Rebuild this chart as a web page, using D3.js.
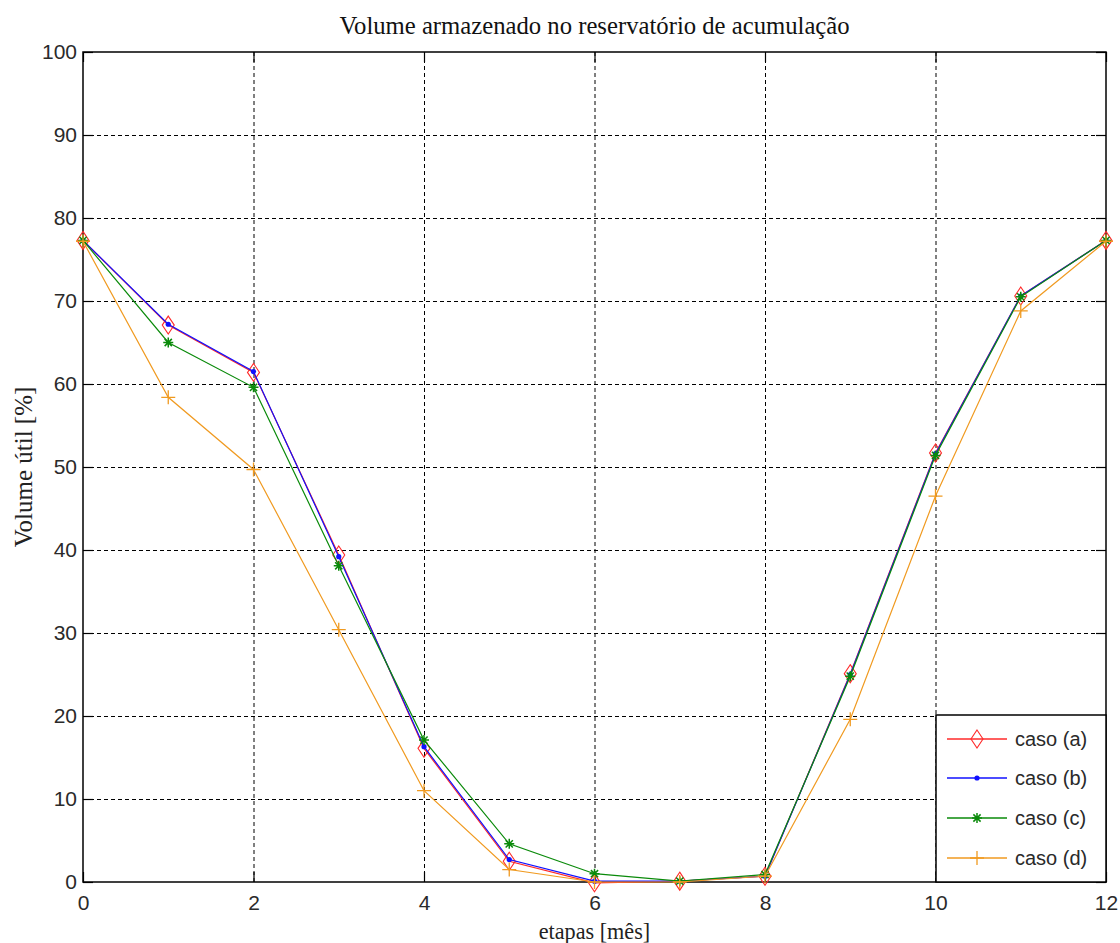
<!DOCTYPE html>
<html><head><meta charset="utf-8">
<script src="https://cdn.jsdelivr.net/npm/d3@7"></script>
<style>
html,body{margin:0;padding:0;background:#fff;}
svg{display:block;}
</style></head>
<body>
<svg id="chart" width="1120" height="943"></svg>
<script>
const etapas = [0,1,2,3,4,5,6,7,8,9,10,11,12];
const casoA = [77.3, 67.1, 61.4, 39.4, 16.1, 2.5, -0.1, 0.1, 0.7, 25.1, 51.7, 70.6, 77.3];
const casoB = [77.3, 67.2, 61.5, 39.2, 16.3, 2.7, 0.1, 0.1, 0.7, 25.0, 51.6, 70.6, 77.3];
const casoC = [77.3, 65.0, 59.6, 38.1, 17.1, 4.6, 1.0, 0.1, 0.9, 24.8, 51.4, 70.5, 77.3];
const casoD = [77.2, 58.4, 49.7, 30.4, 11.0, 1.5, 0.0, 0.0, 0.7, 19.6, 46.5, 68.8, 77.2];
const seriesNames = ["caso (a)", "caso (b)", "caso (c)", "caso (d)"];
const xTicks = [0,2,4,6,8,10,12];
const yTicks = [0,10,20,30,40,50,60,70,80,90,100];
const titleText = "Volume armazenado no reservatório de acumulação";
const xLabel = "etapas [mês]";
const yLabel = "Volume útil [%]";

const colors = ["#ff2a2a", "#1010ff", "#0a8a0a", "#f09a20"];
const markers = ["diamond", "dot", "star", "plus"];
const seriesData = [casoA, casoB, casoC, casoD];

const svg = d3.select("#chart");
const L = 83, R = 1106, T = 52, B = 882;
const x = d3.scaleLinear().domain([0,12]).range([L,R]);
const y = d3.scaleLinear().domain([0,100]).range([B,T]);

const sans = "'Liberation Sans', Arial, sans-serif";
const serif = "'Liberation Serif', 'Times New Roman', serif";

// grid
const grid = svg.append("g");
grid.selectAll("line.gx").data(xTicks.filter(d=>d>0&&d<12)).enter().append("line")
  .attr("x1",d=>x(d)+0.5).attr("x2",d=>x(d)+0.5).attr("y1",T).attr("y2",B)
  .attr("stroke","#000").attr("stroke-width",1).attr("stroke-dasharray","4,3");
grid.selectAll("line.gy").data(yTicks.filter(d=>d>0&&d<100)).enter().append("line")
  .attr("y1",d=>Math.round(y(d))+0.5).attr("y2",d=>Math.round(y(d))+0.5).attr("x1",L).attr("x2",R)
  .attr("stroke","#000").attr("stroke-width",1).attr("stroke-dasharray","4,3");

// axes
const tickLen = 10;
const xAxisB = d3.axisBottom(x).tickValues(xTicks).tickSize(-tickLen).tickPadding(12).tickFormat(d3.format("d"));
const xAxisT = d3.axisTop(x).tickValues(xTicks).tickSize(-tickLen).tickFormat("");
const yAxisL = d3.axisLeft(y).tickValues(yTicks).tickSize(-tickLen).tickPadding(6).tickFormat(d3.format("d"));
const yAxisR = d3.axisRight(y).tickValues(yTicks).tickSize(-tickLen).tickFormat("");

function styleAxis(g){
  g.select(".domain").remove();
  g.selectAll("line").attr("stroke","#000").attr("stroke-width",1.2);
  g.selectAll("text").attr("fill","#2a2a2a").style("font-family",sans).style("font-size","21px");
}
svg.append("g").attr("transform",`translate(0,${B})`).call(xAxisB).call(styleAxis)
  .selectAll("text").attr("dy","0.75em");
svg.append("g").attr("transform",`translate(0,${T})`).call(xAxisT).call(styleAxis);
svg.append("g").attr("transform",`translate(${L},0)`).call(yAxisL).call(styleAxis);
svg.append("g").attr("transform",`translate(${R},0)`).call(yAxisR).call(styleAxis);

// frame
svg.append("rect").attr("x",L).attr("y",T).attr("width",R-L).attr("height",B-T)
  .attr("fill","none").attr("stroke","#000").attr("stroke-width",1.5);

// markers
function drawMarker(g, type, cx, cy, color){
  if(type==="diamond"){
    g.append("path").attr("d",`M${cx},${cy-9}L${cx+6},${cy}L${cx},${cy+9}L${cx-6},${cy}Z`)
      .attr("fill","none").attr("stroke",color).attr("stroke-width",1.1);
  } else if(type==="dot"){
    g.append("circle").attr("cx",cx).attr("cy",cy).attr("r",2.6).attr("fill",color);
  } else if(type==="star"){
    const s=5, d=3.6;
    g.append("path").attr("d",`M${cx-s},${cy}L${cx+s},${cy}M${cx},${cy-s}L${cx},${cy+s}M${cx-d},${cy-d}L${cx+d},${cy+d}M${cx-d},${cy+d}L${cx+d},${cy-d}`)
      .attr("stroke",color).attr("stroke-width",1.5).attr("fill","none");
  } else if(type==="plus"){
    const s=7;
    g.append("path").attr("d",`M${cx-s},${cy}L${cx+s},${cy}M${cx},${cy-s}L${cx},${cy+s}`)
      .attr("stroke",color).attr("stroke-width",1.3).attr("fill","none");
  }
}

const line = d3.line().x((d,i)=>x(etapas[i])).y(d=>y(d));
seriesData.forEach((vals,k)=>{
  const g = svg.append("g");
  g.append("path").attr("d",line(vals)).attr("fill","none").attr("stroke",colors[k]).attr("stroke-width",1.2);
  vals.forEach((v,i)=>drawMarker(g, markers[k], x(etapas[i]), y(v), colors[k]));
});

// legend
const lg = svg.append("g");
const lx0 = 936, ly0 = 715;
lg.append("rect").attr("x",lx0).attr("y",ly0).attr("width",R-lx0).attr("height",B-ly0)
  .attr("fill","#fff").attr("stroke","#000").attr("stroke-width",1.5);
const rowY = [739, 778, 818, 858];
seriesNames.forEach((name,k)=>{
  lg.append("line").attr("x1",947).attr("x2",1007).attr("y1",rowY[k]).attr("y2",rowY[k])
    .attr("stroke",colors[k]).attr("stroke-width",1.5);
  drawMarker(lg, markers[k], 977, rowY[k], colors[k]);
  lg.append("text").attr("x",1015).attr("y",rowY[k]).attr("dy","0.35em")
    .style("font-family",sans).style("font-size","20px").attr("fill","#2a2a2a").text(name);
});

// title and labels
svg.append("text").attr("x",(L+R)/2).attr("y",34).attr("text-anchor","middle")
  .style("font-family",serif).style("font-size","24.7px").attr("fill","#111").text(titleText);
svg.append("text").attr("x",(L+R)/2).attr("y",939).attr("text-anchor","middle")
  .style("font-family",serif).style("font-size","22.2px").attr("fill","#222").text(xLabel);
svg.append("text").attr("transform",`translate(32,${(T+B)/2}) rotate(-90)`).attr("text-anchor","middle")
  .style("font-family",serif).style("font-size","25px").attr("fill","#222").text(yLabel);
</script>
</body></html>
